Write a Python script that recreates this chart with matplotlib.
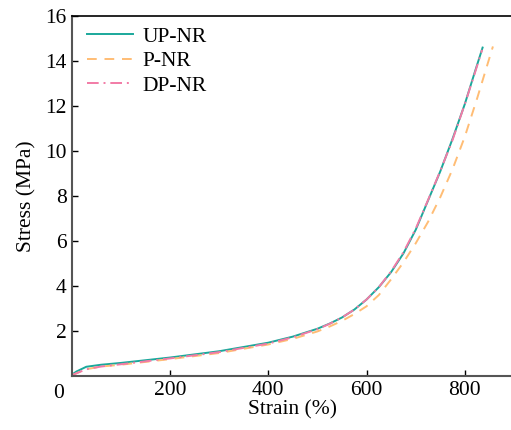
import numpy as np
import matplotlib
matplotlib.use('Agg')
import matplotlib.pyplot as plt

plt.rcParams['font.family'] = ['Liberation Serif', 'DejaVu Serif']

series_names = ['UP-NR', 'P-NR', 'DP-NR']

strain_up = [0, 10, 30, 60, 100, 200, 300, 400, 450, 500, 525, 550, 575, 600,
             625, 650, 675, 700, 725, 750, 775, 800, 820, 836]
stress_up = [0.05, 0.2, 0.41, 0.5, 0.58, 0.82, 1.1, 1.48, 1.75, 2.1, 2.33, 2.6, 2.95, 3.4,
             3.95, 4.62, 5.45, 6.5, 7.8, 9.1, 10.55, 12.1, 13.5, 14.6]

strain_p = [0, 10, 30, 60, 100, 200, 300, 400, 450, 500, 525, 550, 575, 600,
            625, 650, 675, 700, 725, 750, 775, 800, 825, 857]
stress_p = [0.03, 0.12, 0.3, 0.42, 0.5, 0.75, 1.02, 1.4, 1.65, 1.98, 2.2, 2.45, 2.75, 3.1,
            3.6, 4.3, 5.05, 5.9, 6.85, 7.95, 9.2, 10.65, 12.35, 14.65]

strain_dp = [0, 10, 30, 60, 100, 200, 300, 400, 450, 500, 525, 550, 575, 600,
             625, 650, 675, 700, 725, 750, 775, 800, 820, 835]
stress_dp = [0.03, 0.12, 0.3, 0.42, 0.52, 0.78, 1.06, 1.44, 1.72, 2.08, 2.32, 2.6, 2.95, 3.4,
             3.95, 4.65, 5.5, 6.55, 7.82, 9.12, 10.5, 12.1, 13.45, 14.5]

xticks = [200, 400, 600, 800]
yticks = [2, 4, 6, 8, 10, 12, 14, 16]

fig = plt.figure(figsize=(5.11, 4.30), dpi=100)
ax = fig.add_axes([0.140, 0.1256, 0.866, 0.837])

ax.plot(strain_up, stress_up, color='#1aa89b', lw=1.4, ls='-', label=series_names[0])
ax.plot(strain_p, stress_p, color='#ffbd75', lw=1.4, ls=(0, (5, 4)), label=series_names[1])
ax.plot(strain_dp, stress_dp, color='#f27ba6', lw=1.4, ls=(0, (6, 2.5, 1, 2.5)),
        label=series_names[2])

ax.set_xlim(0, 900)
ax.set_ylim(0, 16)
ax.set_xticks(xticks)
ax.set_yticks(yticks)
ax.tick_params(direction='in', length=4, width=1, labelsize=15.5, colors='black')
ax.spines['right'].set_visible(False)
for s in ['left', 'bottom']:
    ax.spines[s].set_color('#555555')
    ax.spines[s].set_linewidth(1.5)
ax.spines['top'].set_linewidth(1.2)

ax.text(-0.03, -0.022, '0', transform=ax.transAxes, ha='center', va='top', fontsize=15.5)

ax.set_xlabel('Strain (%)', fontsize=15.5, labelpad=0)
ax.set_ylabel('Stress (MPa)', fontsize=15.5, labelpad=6)

ax.legend(loc='upper left', frameon=False, fontsize=15.5, handlelength=2.15,
          labelspacing=0.2, handletextpad=0.45, borderaxespad=0.3,
          bbox_to_anchor=(0.0, 1.012))

fig.savefig('out.png', dpi=100)
